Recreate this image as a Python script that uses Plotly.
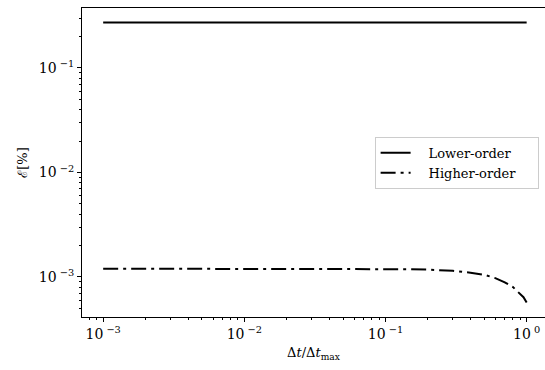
import plotly.graph_objects as go

# Data
lower_x = [0.001, 1.0]
lower_y = [0.272, 0.272]

higher_x = [0.001, 0.002, 0.005, 0.01, 0.02, 0.05, 0.1, 0.15, 0.2, 0.3, 0.4,
            0.5, 0.6, 0.7, 0.8, 0.9, 0.95, 1.0]
higher_y = [1.20e-3, 1.20e-3, 1.20e-3, 1.20e-3, 1.20e-3, 1.199e-3, 1.195e-3,
            1.187e-3, 1.175e-3, 1.145e-3, 1.10e-3, 1.05e-3, 0.975e-3,
            0.89e-3, 0.80e-3, 0.695e-3, 0.64e-3, 0.57e-3]

series_names = ["Lower-order", "Higher-order"]

x_ticks = [0.001, 0.01, 0.1, 1]
x_ticklabels = ["10<sup> −3</sup>", "10<sup> −2</sup>", "10<sup> −1</sup>", "10<sup> 0</sup>"]
y_ticks = [0.001, 0.01, 0.1]
y_ticklabels = ["10<sup> −3</sup>", "10<sup> −2</sup>", "10<sup> −1</sup>"]

x_minor = [m * 10.0 ** e for e in (-4, -3, -2, -1, 0) for m in range(2, 10)]
y_minor = [m * 10.0 ** e for e in (-4, -3, -2, -1) for m in range(2, 10)]

FONT = "DejaVu Serif"
PAD_L = "\u2003"
PAD_R = "\u00a0" * 4

fig = go.Figure()
fig.add_trace(go.Scatter(x=lower_x, y=lower_y, mode="lines",
                         name=PAD_L + series_names[0] + PAD_R,
                         line=dict(color="black", width=2)))
fig.add_trace(go.Scatter(x=higher_x, y=higher_y, mode="lines",
                         name=PAD_L + series_names[1] + PAD_R,
                         line=dict(color="black", width=2, dash="15px,5px,3px,5px")))

axis_common = dict(
    type="log", showgrid=False, zeroline=False, showline=True, linecolor="black",
    linewidth=1, ticks="outside", ticklen=4, tickwidth=1, tickcolor="black",
    tickmode="array", tickfont=dict(family=FONT, size=14, color="black"),
)

fig.update_xaxes(**axis_common, range=[-3.15, 0.13], mirror=True,
                 tickvals=x_ticks, ticktext=x_ticklabels,
                 minor=dict(tickmode="array", tickvals=x_minor, ticks="outside",
                            ticklen=2, tickwidth=0.8, tickcolor="black", showgrid=False),
                 title=dict(text="Δ<i>t</i>/Δ<i>t</i><sub>max</sub>",
                            font=dict(family=FONT, size=13, color="black"), standoff=7))
fig.update_yaxes(**axis_common, range=[-3.383, -0.426],
                 tickvals=y_ticks, ticktext=y_ticklabels,
                 minor=dict(tickmode="array", tickvals=y_minor, ticks="outside",
                            ticklen=2, tickwidth=0.8, tickcolor="black", showgrid=False),
                 title=dict(text="ℰ[%]", font=dict(family=FONT, size=13, color="black"),
                            standoff=8))

fig.update_layout(
    width=545, height=370,
    margin=dict(l=82, r=0, t=8, b=53),
    plot_bgcolor="white", paper_bgcolor="white",
    legend=dict(x=0.632, y=0.583, xanchor="left", yanchor="top",
                bgcolor="rgba(255,255,255,0.8)", bordercolor="#cccccc", borderwidth=1,
                font=dict(family=FONT, size=13, color="black"), tracegroupgap=2),
)

fig.write_html("out.html")
